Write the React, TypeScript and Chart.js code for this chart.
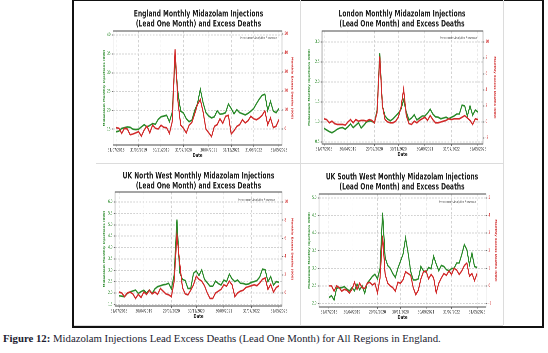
import React, { useEffect, useRef } from 'react';
import { Chart, registerables } from 'chart.js';

Chart.register(...registerables);

// ---------------- data ----------------
const ENGLAND_TITLE = ['England Monthly Midazolam Injections', '(Lead One Month) and Excess Deaths'];
const ENGLAND_INJECTIONS = [14.3, 14.5, 15.2, 15.4, 15.6, 15.5, 15.0, 14.9, 15.0, 15.6, 16.2, 15.6, 16.0, 16.5, 16.3, 17.6, 18.3, 18.5, 18.7, 17.0, 19.5, 33.8, 24.9, 19.8, 19.3, 17.8, 17.0, 17.4, 20.0, 21.8, 25.6, 22.0, 19.4, 18.5, 18.0, 18.3, 19.9, 19.0, 19.1, 19.4, 21.7, 20.5, 19.1, 20.2, 19.4, 19.1, 18.8, 19.2, 19.8, 20.5, 21.8, 23.0, 24.0, 24.3, 20.0, 22.4, 19.8, 19.4, 20.5];
const ENGLAND_EXCESS = [0.7, 0.4, -2.3, 0.4, 0, -3, -2.6, -2, -1.4, -3.7, -0.5, 1.6, -2, 2, 0.4, 0, 2, 0.9, 0.7, -2.3, 3.9, 42, 15, 2.1, 0.4, -2, 2, 3.5, 8, 13, 15.5, 9, 0, -2, -4, 1.4, 2.3, 5.4, 3, 6.7, 7.2, -2.6, -0.9, 1.4, 2.3, 4.9, 3.2, 4.4, 6.7, 5.4, 4.9, 5.8, 7.2, 9.6, 2.3, 5.8, 0.8, 1.5, 5];
const ENGLAND_TICK_INDEX = [0, 8, 16, 24, 33, 41, 49, 58];
const ENGLAND_TICK_LABELS = ['31/07/2018', '31/03/2019', '30/11/2019', '31/07/2020', '30/04/2021', '31/12/2021', '31/08/2022', '31/05/2023'];
const ENGLAND_LEFT_TICKS = [15, 20, 25, 30, 35, 40];
const ENGLAND_RIGHT_TICKS = [0, 10, 20, 30, 40, 50];

const LONDON_TITLE = ['London Monthly Midazolam Injections', '(Lead One Month) and Excess Deaths'];
const LONDON_INJECTIONS = [0.84, 0.8, 0.76, 0.73, 0.77, 0.82, 0.85, 0.86, 0.82, 0.88, 0.95, 0.86, 0.92, 0.98, 0.85, 0.92, 1.0, 1.03, 1.02, 0.98, 1.3, 2.72, 1.4, 1.15, 1.07, 1.03, 1.08, 1.15, 1.22, 1.32, 1.55, 1.25, 1.05, 1.1, 1.18, 1.05, 1.1, 1.15, 1.15, 1.22, 1.32, 1.2, 1.13, 1.12, 1.08, 1.1, 1.12, 1.08, 1.12, 1.15, 1.2, 1.2, 1.42, 1.4, 1.15, 1.4, 1.17, 1.3, 1.25];
const LONDON_EXCESS = [0.4, 0.3, -0.1, 0.1, -0.2, -0.3, -0.3, -0.3, -0.4, 0, 0.3, -0.1, 0.3, 0.1, 0.2, 0.2, 0.1, 0.3, 0.2, -0.1, 1.2, 8.2, 2.0, 0.3, 0, -0.1, -0.1, 0.1, 0.6, 1.8, 4.1, 0.8, -0.2, -0.3, 0.1, -0.1, 0.2, 0.4, 0.6, 0.2, 0.8, 0.3, -0.1, -0.1, 0, 0.1, 0.2, 0.4, 0.3, 0.4, 0.4, 0.4, 0.6, 0.8, 0.5, 0.2, -0.3, 0.4, 0.3];
const LONDON_TICK_INDEX = [0, 9, 19, 28, 38, 48, 58];
const LONDON_TICK_LABELS = ['31/07/2018', '30/04/2019', '29/02/2020', '30/11/2020', '30/09/2021', '31/07/2022', '31/05/2023'];
const LONDON_LEFT_TICKS = [0.5, 1.0, 1.5, 2.0, 2.5, 3.0];
const LONDON_RIGHT_TICKS = [-2, 0, 2, 4, 6, 8, 10];

const NW_TITLE = ['UK North West Monthly Midazolam Injections', '(Lead One Month) and Excess Deaths'];
const NW_INJECTIONS = [1.88, 1.86, 1.84, 1.98, 2.05, 2.09, 2.13, 1.98, 2.06, 2.12, 2.0, 2.13, 1.98, 2.18, 2.28, 2.32, 2.36, 2.38, 2.43, 2.18, 2.8, 5.23, 2.9, 2.6, 2.55, 2.2, 2.2, 2.87, 2.97, 2.77, 3.02, 2.6, 2.45, 2.3, 2.3, 2.52, 2.42, 2.35, 2.57, 2.5, 2.83, 2.62, 2.5, 2.57, 2.43, 2.42, 2.38, 2.4, 2.47, 2.5, 2.55, 2.7, 3.05, 3.02, 2.5, 2.72, 2.35, 2.5, 2.47];
const NW_EXCESS = [0.1, 0, -0.4, 0, 0.1, -0.1, -0.6, -0.15, -0.5, 0.1, -0.15, 0.3, -0.1, 0.1, -0.15, 0.5, 0.2, -0.1, -0.2, -0.4, 1.3, 6.4, 3.3, 0.6, -0.1, -0.2, 0.3, 0.9, 1.85, 1.5, 1.3, 0.8, 0, -0.6, -0.6, 0, 0.2, 0.4, 0.9, 0.75, 1.3, 0.9, -0.4, 0, 0.2, 0.3, 0.6, 0.7, 0.8, 0.9, 0.8, 1.1, 1.5, 1.65, 0.4, 0.95, 0.1, 0.6, 0.8];
const NW_TICK_INDEX = [0, 9, 19, 28, 38, 48, 58];
const NW_TICK_LABELS = ['31/07/2018', '30/04/2019', '29/02/2020', '30/11/2020', '30/09/2021', '31/07/2022', '31/05/2023'];
const NW_LEFT_TICKS = [1.5, 2.0, 2.5, 3.0, 3.5, 4.0, 4.5, 5.0, 5.5, 6.0];
const NW_RIGHT_TICKS = [0, 2, 4, 6, 8, 10];

const SW_TITLE = ['UK South West Monthly Midazolam Injections', '(Lead One Month) and Excess Deaths'];
const SW_INJECTIONS = [2.17, 2.22, 2.1, 2.43, 2.45, 2.45, 2.48, 2.41, 2.36, 2.45, 2.36, 2.55, 2.39, 2.5, 2.29, 2.58, 2.67, 2.77, 2.83, 2.7, 3.0, 4.58, 3.3, 3.08, 3.0, 2.85, 2.74, 3.0, 3.2, 3.4, 3.86, 3.43, 2.91, 2.67, 2.67, 2.7, 3.05, 2.93, 2.89, 3.02, 2.99, 3.34, 3.12, 2.93, 3.08, 3.05, 2.96, 2.93, 2.99, 3.0, 3.15, 3.15, 3.39, 3.67, 3.53, 3.1, 3.43, 3.05, 3.02];
const SW_EXCESS = [0, 0, -0.3, 0, -0.1, -0.3, -0.2, -0.25, -0.4, -0.2, 0.2, -0.2, 0.15, -0.1, -0.15, 0.15, 0.2, 0.05, 0.15, -0.4, 0.45, 2.85, 0.65, 0.15, 0, -0.1, -0.3, 0.2, 0.15, 0.35, 0.8, 0.7, 0.6, -0.1, -0.5, -0.25, 0.4, 0.8, 0.85, 0.4, 0.65, 0.45, -0.4, 0.15, 0.45, 0.7, 0.6, 0.85, 0.65, 1.0, 0.9, 0.65, 0.85, 1.15, 1.3, 0.55, 0.7, 0.3, 0.7];
const SW_TICK_INDEX = [0, 9, 19, 28, 38, 48, 58];
const SW_TICK_LABELS = ['31/07/2018', '30/04/2019', '29/02/2020', '30/11/2020', '30/09/2021', '31/07/2022', '31/05/2023'];
const SW_LEFT_TICKS = [2.0, 2.5, 3.0, 3.5, 4.0, 4.5, 5.0];
const SW_RIGHT_TICKS = [-1, 0, 1, 2, 3, 4, 5];

const LEFT_AXIS_TITLE = 'Midazolam Monthly Injections (000)';
const RIGHT_AXIS_TITLE = 'Monthly Excess Deaths (000)';
const X_AXIS_TITLE = 'Date';
const WATERMARK = 'Investment Analytics Research';
const CAPTION_BOLD = 'Figure 12:';
const CAPTION_TEXT = ' Midazolam Injections Lead Excess Deaths (Lead One Month) for All Regions in England.';

// ---------------- styling ----------------
const GREEN = '#2a8a2a';
const RED = '#d12a2a';
const FONT = "'DejaVu Sans', 'Liberation Sans', sans-serif";
const SQUEEZE = 0.68; // horizontal compression of the original figure
const SCALE = 2; // supersampling

type Box = { left: number; top: number; width: number; height: number };
type Margins = { left: number; right: number; top: number; bottom: number };

interface PanelSpec {
  title: string[];
  injections: number[];
  excess: number[];
  tickIndex: number[];
  tickLabels: string[];
  leftTicks: number[];
  rightTicks: number[];
  leftDecimals: number;
  leftRange: [number, number];
  rightRange: [number, number];
  xRange: [number, number];
  box: Box;
  margins: Margins;
  titleLine1: number;
  yTitleLeft: number;
  yTitleRight: number;
  watermark: { right: number; top: number };
}

const PANELS: PanelSpec[] = [
  {
    title: ENGLAND_TITLE, injections: ENGLAND_INJECTIONS, excess: ENGLAND_EXCESS,
    tickIndex: ENGLAND_TICK_INDEX, tickLabels: ENGLAND_TICK_LABELS,
    leftTicks: ENGLAND_LEFT_TICKS, rightTicks: ENGLAND_RIGHT_TICKS, leftDecimals: 0,
    leftRange: [10.8, 41.1], rightRange: [-8.4, 51.6], xRange: [-1.1, 59.1],
    box: { left: 96, top: 2, width: 205, height: 160 },
    margins: { left: 17, right: 19, top: 29, bottom: 17 },
    titleLine1: 12, yTitleLeft: 8, yTitleRight: 8.7, watermark: { right: 5, top: 7 },
  },
  {
    title: LONDON_TITLE, injections: LONDON_INJECTIONS, excess: LONDON_EXCESS,
    tickIndex: LONDON_TICK_INDEX, tickLabels: LONDON_TICK_LABELS,
    leftTicks: LONDON_LEFT_TICKS, rightTicks: LONDON_RIGHT_TICKS, leftDecimals: 1,
    leftRange: [0.45, 3.275], rightRange: [-2.75, 11.375], xRange: [-0.75, 59.9],
    box: { left: 301, top: 2, width: 202, height: 160 },
    margins: { left: 21, right: 20, top: 29, bottom: 18 },
    titleLine1: 12, yTitleLeft: 8, yTitleRight: 8, watermark: { right: 6, top: 7 },
  },
  {
    title: NW_TITLE, injections: NW_INJECTIONS, excess: NW_EXCESS,
    tickIndex: NW_TICK_INDEX, tickLabels: NW_TICK_LABELS,
    leftTicks: NW_LEFT_TICKS, rightTicks: NW_RIGHT_TICKS, leftDecimals: 1,
    leftRange: [1.43, 6.44], rightRange: [-1.43, 11.1], xRange: [-1.45, 59.1],
    box: { left: 96, top: 166, width: 205, height: 158 },
    margins: { left: 19, right: 19, top: 26, bottom: 18 },
    titleLine1: 10, yTitleLeft: 8, yTitleRight: 9, watermark: { right: 7, top: 8 },
  },
  {
    title: SW_TITLE, injections: SW_INJECTIONS, excess: SW_EXCESS,
    tickIndex: SW_TICK_INDEX, tickLabels: SW_TICK_LABELS,
    leftTicks: SW_LEFT_TICKS, rightTicks: SW_RIGHT_TICKS, leftDecimals: 1,
    leftRange: [1.9, 5.11], rightRange: [-1.2, 5.22], xRange: [-3.9, 61.5],
    box: { left: 301, top: 166, width: 202, height: 158 },
    margins: { left: 18, right: 17, top: 28, bottom: 17 },
    titleLine1: 11, yTitleLeft: 8, yTitleRight: 7.3, watermark: { right: 10, top: 8 },
  },
];

function Panel({ spec }: { spec: PanelSpec }) {
  const ref = useRef<HTMLCanvasElement | null>(null);
  const cw = Math.round((spec.box.width * SCALE) / SQUEEZE);
  const ch = spec.box.height * SCALE;
  const hx = cw / spec.box.width;
  const vy = ch / spec.box.height;

  useEffect(() => {
    const canvas = ref.current;
    if (!canvas) return;
    const titleSize = 17.5;
    const titleLH = 20;
    const titlePadTop = spec.titleLine1 * vy - titleLH / 2;
    const titlePadBottom = spec.margins.top * vy - titlePadTop - 2 * titleLH;
    const dateSize = 11;
    const datePad = spec.margins.bottom * vy - 10.5 * vy - (dateSize * 1.2) / 2;
    const yTitleSize = 7.6;
    const leftTitlePad = spec.yTitleLeft * hx - (yTitleSize * 1.2) / 2;
    const rightTitlePad = spec.yTitleRight * hx - (yTitleSize * 1.2) / 2;

    const framePlugin = {
      id: 'frameAndMark',
      afterDatasetsDraw(chart: any) {
        const { ctx, chartArea: a } = chart;
        ctx.save();
        ctx.strokeStyle = '#4a4a4a';
        ctx.lineWidth = 2;
        ctx.strokeRect(a.left, a.top, a.right - a.left, a.bottom - a.top);
        ctx.font = `italic 7px ${FONT}`;
        ctx.fillStyle = '#555';
        ctx.textAlign = 'right';
        ctx.textBaseline = 'middle';
        ctx.fillText(WATERMARK, a.right - spec.watermark.right * hx, a.top + spec.watermark.top * vy);
        ctx.restore();
      },
    };

    const gridCommon = { color: '#d2d2d2', lineWidth: 2, tickColor: '#444', tickLength: 4, tickWidth: 1.5 };

    const chart = new Chart(canvas, {
      type: 'line',
      data: {
        datasets: [
          {
            label: 'Monthly Excess Deaths',
            data: spec.excess.map((v, i) => ({ x: i, y: v })),
            yAxisID: 'y1',
            borderColor: RED,
            backgroundColor: RED,
            borderWidth: 3.2,
            pointRadius: 0,
            tension: 0,
            order: 0,
          },
          {
            label: 'Midazolam Monthly Injections',
            data: spec.injections.map((v, i) => ({ x: i, y: v })),
            yAxisID: 'y',
            borderColor: GREEN,
            backgroundColor: GREEN,
            borderWidth: 3.2,
            pointRadius: 0,
            tension: 0,
            order: 1,
          },
        ],
      },
      options: {
        responsive: false,
        animation: false,
        devicePixelRatio: 1,
        events: [],
        layout: { padding: 0 },
        plugins: {
          legend: { display: false },
          tooltip: { enabled: false },
          title: {
            display: true,
            text: spec.title,
            color: '#222',
            font: { family: FONT, size: titleSize, weight: 'bold', lineHeight: titleLH / titleSize },
            padding: { top: titlePadTop, bottom: titlePadBottom },
          },
        },
        scales: {
          x: {
            type: 'linear',
            position: 'bottom',
            min: spec.xRange[0],
            max: spec.xRange[1],
            afterBuildTicks: (sc: any) => {
              sc.ticks = spec.tickIndex.map((v) => ({ value: v }));
            },
            afterFit: (sc: any) => {
              sc.height = spec.margins.bottom * vy;
            },
            ticks: {
              autoSkip: false,
              maxRotation: 0,
              minRotation: 0,
              padding: 2,
              color: '#333',
              font: { family: FONT, size: 8.6 },
              callback: (v: any) => {
                const k = spec.tickIndex.indexOf(Number(v));
                return k >= 0 ? spec.tickLabels[k] : '';
              },
            },
            grid: { ...gridCommon },
            border: { display: false, dash: [5, 4] },
            title: {
              display: true,
              text: X_AXIS_TITLE,
              color: '#222',
              font: { family: FONT, size: dateSize, weight: 'bold', lineHeight: 1.2 },
              padding: { top: 0, bottom: datePad },
            },
          },
          y: {
            type: 'linear',
            position: 'left',
            min: spec.leftRange[0],
            max: spec.leftRange[1],
            afterBuildTicks: (sc: any) => {
              sc.ticks = spec.leftTicks.map((v) => ({ value: v }));
            },
            afterFit: (sc: any) => {
              sc.width = spec.margins.left * hx;
            },
            ticks: {
              padding: 3,
              color: GREEN,
              font: { family: FONT, size: 8.4 },
              callback: (v: any) => Number(v).toFixed(spec.leftDecimals),
            },
            grid: { ...gridCommon },
            border: { display: false, dash: [5, 4] },
            title: {
              display: true,
              text: LEFT_AXIS_TITLE,
              color: GREEN,
              font: { family: FONT, size: yTitleSize, weight: 'bold', lineHeight: 1.2 },
              padding: { top: leftTitlePad, bottom: 0 },
            },
          },
          y1: {
            type: 'linear',
            position: 'right',
            min: spec.rightRange[0],
            max: spec.rightRange[1],
            afterBuildTicks: (sc: any) => {
              sc.ticks = spec.rightTicks.map((v) => ({ value: v }));
            },
            afterFit: (sc: any) => {
              sc.width = spec.margins.right * hx;
            },
            ticks: {
              padding: 3,
              color: RED,
              font: { family: FONT, size: 8.4 },
              callback: (v: any) => String(v),
            },
            grid: { ...gridCommon, drawOnChartArea: false },
            border: { display: false },
            title: {
              display: true,
              text: RIGHT_AXIS_TITLE,
              color: RED,
              font: { family: FONT, size: yTitleSize, weight: 'bold', lineHeight: 1.2 },
              padding: { top: rightTitlePad, bottom: 0 },
            },
          },
        },
      } as any,
      plugins: [framePlugin],
    });
    return () => chart.destroy();
  }, [spec]);

  return (
    <canvas
      ref={ref}
      width={cw}
      height={ch}
      style={{
        position: 'absolute',
        left: spec.box.left,
        top: spec.box.top,
        width: cw,
        height: ch,
        transform: `scale(${1 / hx}, ${1 / vy})`,
        transformOrigin: '0 0',
      }}
    />
  );
}

export default function App() {
  const line = (s: React.CSSProperties) => <div style={{ position: 'absolute', background: '#dcdcdc', ...s }} />;
  return (
    <div style={{ position: 'fixed', left: 0, top: 0, width: 548, height: 353, background: '#fff', overflow: 'hidden' }}>
      <div
        style={{
          position: 'absolute', left: 72, top: -1, width: 472, height: 329,
          border: '2px solid #111', boxSizing: 'border-box',
        }}
      />
      {line({ left: 96, top: 163, width: 407, height: 1 })}
      {line({ left: 300, top: 0, width: 1, height: 325 })}
      {line({ left: 503, top: 0, width: 1, height: 325 })}
      {line({ left: 74, top: 325, width: 429, height: 1 })}
      {PANELS.map((p, i) => (
        <Panel key={i} spec={p} />
      ))}
      <div
        style={{
          position: 'absolute', left: 3, top: 332, whiteSpace: 'nowrap',
          fontFamily: "'Liberation Serif', 'Times New Roman', serif", fontSize: 10.75, lineHeight: '12px',
          color: '#1b1b2f',
        }}
      >
        <b>{CAPTION_BOLD}</b>
        {CAPTION_TEXT}
      </div>
    </div>
  );
}
